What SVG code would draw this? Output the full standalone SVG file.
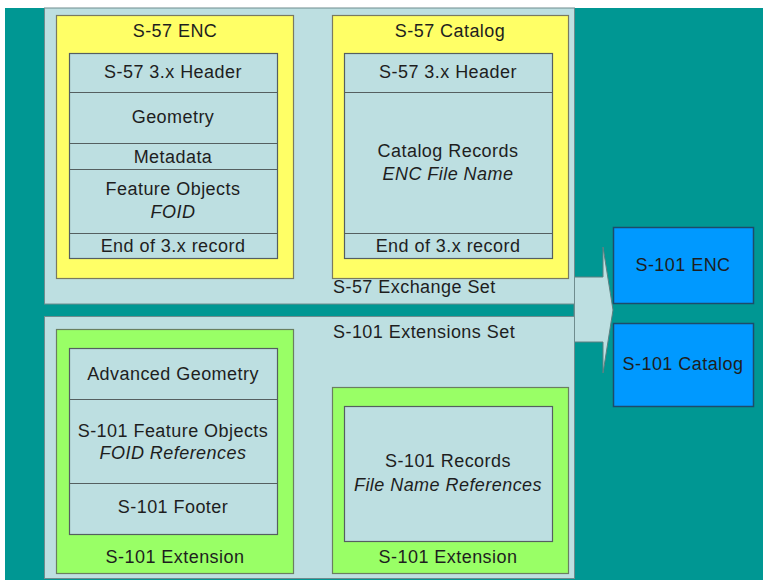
<svg xmlns="http://www.w3.org/2000/svg" width="763" height="580" viewBox="0 0 763 580">
  <style>
    text { font-family: "Liberation Sans", Arial, sans-serif; font-size: 18px; letter-spacing: 0.45px; fill: #1e1e1e; text-anchor: middle; }
    .it { font-style: italic; }
    .left { text-anchor: start; }
    .panel { fill: #bddfe1; stroke: #6f8c8e; stroke-width: 1; }
    .yellow { fill: #ffff66; stroke: #7a7a60; stroke-width: 1.2; }
    .green { fill: #99ff66; stroke: #6a7f60; stroke-width: 1.2; }
    .inner { fill: #bddfe1; stroke: #555f60; stroke-width: 1.2; }
    .div { stroke: #555f60; stroke-width: 1.2; }
    .blue { fill: #0099ff; stroke: #1d4b6a; stroke-width: 1.5; }
  </style>

  <!-- page background -->
  <rect x="0" y="0" width="763" height="580" fill="#ffffff"/>
  <rect x="5" y="8" width="758" height="572" fill="#009793"/>

  <!-- conversion arrow -->
  <g id="connectors">
    <polygon points="574,277 603,277 603,247 613,310 603,373 603,342 574,342" fill="#bddfe1" stroke="#5f7f80" stroke-width="1"/>
    <line x1="574.5" y1="277" x2="574.5" y2="342" stroke="#6f8c8e" stroke-width="1"/>
  </g>

  <!-- S-57 exchange set -->
  <g id="s57-exchange-set">
    <rect class="panel" x="44.5" y="8" width="530" height="296"/>
    <text class="left" x="333" y="293">S-57 Exchange Set</text>
  </g>

  <g id="s57-enc">
    <rect class="yellow" x="56.5" y="15.5" width="237" height="263"/>
    <text x="175" y="37">S-57 ENC</text>
    <rect class="inner" x="69.5" y="53.5" width="208" height="205"/>
    <line class="div" x1="69.5" y1="92.5" x2="277.5" y2="92.5"/>
    <line class="div" x1="69.5" y1="143.5" x2="277.5" y2="143.5"/>
    <line class="div" x1="69.5" y1="169.5" x2="277.5" y2="169.5"/>
    <line class="div" x1="69.5" y1="233.5" x2="277.5" y2="233.5"/>
    <text x="173" y="78">S-57 3.x Header</text>
    <text x="173" y="123">Geometry</text>
    <text x="173" y="163">Metadata</text>
    <text x="173" y="195">Feature Objects</text>
    <text class="it" x="173" y="218">FOID</text>
    <text x="173" y="252">End of 3.x record</text>
  </g>

  <g id="s57-catalog">
    <rect class="yellow" x="332.5" y="15.5" width="236" height="263"/>
    <text x="450" y="37">S-57 Catalog</text>
    <rect class="inner" x="344.5" y="53.5" width="208" height="205"/>
    <line class="div" x1="344.5" y1="92.5" x2="552.5" y2="92.5"/>
    <line class="div" x1="344.5" y1="233.5" x2="552.5" y2="233.5"/>
    <text x="448" y="78">S-57 3.x Header</text>
    <text x="448" y="157">Catalog Records</text>
    <text class="it" x="448" y="180">ENC File Name</text>
    <text x="448" y="252">End of 3.x record</text>
  </g>

  <!-- S-101 extensions set -->
  <g id="s101-extensions-set">
    <rect class="panel" x="44.5" y="316.5" width="530" height="262"/>
    <text class="left" x="333" y="338">S-101 Extensions Set</text>
  </g>

  <g id="s101-extension-1">
    <rect class="green" x="56.5" y="329.5" width="237" height="244"/>
    <rect class="inner" x="69.5" y="348.5" width="208" height="186"/>
    <line class="div" x1="69.5" y1="399.5" x2="277.5" y2="399.5"/>
    <line class="div" x1="69.5" y1="483.5" x2="277.5" y2="483.5"/>
    <text x="173" y="380">Advanced Geometry</text>
    <text x="173" y="437">S-101 Feature Objects</text>
    <text class="it" x="173" y="459">FOID References</text>
    <text x="173" y="513">S-101 Footer</text>
    <text x="175" y="563">S-101 Extension</text>
  </g>

  <g id="s101-extension-2">
    <rect class="green" x="332.5" y="387.5" width="236" height="186"/>
    <rect class="inner" x="344.5" y="406.5" width="208" height="135"/>
    <text x="448" y="467">S-101 Records</text>
    <text class="it" x="448" y="491">File Name References</text>
    <text x="448" y="563">S-101 Extension</text>
  </g>

  <!-- S-101 products -->
  <g id="s101-enc">
    <rect class="blue" x="613.5" y="227.5" width="140" height="76"/>
    <text x="683" y="271">S-101 ENC</text>
  </g>

  <g id="s101-catalog">
    <rect class="blue" x="613.5" y="323.5" width="140" height="83"/>
    <text x="683" y="370">S-101 Catalog</text>
  </g>
</svg>
